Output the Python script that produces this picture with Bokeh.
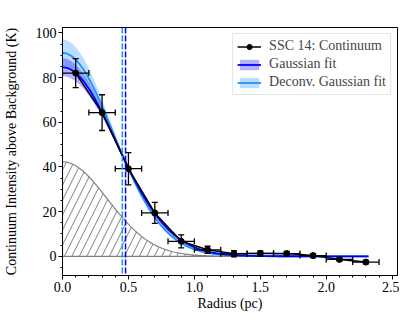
import numpy as np
from bokeh.plotting import figure
from bokeh.models import (ColumnDataSource, Span, Legend, LegendItem, Range1d,
                          PrintfTickFormatter)
from bokeh.embed import file_html
from bokeh.resources import INLINE

# ---- data ----
radius = [0.1, 0.3, 0.5, 0.7, 0.9, 1.1, 1.3, 1.5, 1.7, 1.9, 2.1, 2.3]
radius_err = [0.1, 0.1, 0.1, 0.1, 0.1, 0.1, 0.1, 0.1, 0.1, 0.1, 0.1, 0.1]
intensity = [82.0, 64.3, 39.2, 19.4, 6.7, 2.9, 1.1, 1.3, 1.2, 0.3, -1.4, -2.6]
intensity_err = [6.5, 8.0, 7.2, 4.7, 2.9, 1.6, 1.4, 1.1, 1.0, 0.9, 0.8, 0.8]

# Gaussian fit parameters (amplitude K, sigma pc) and uncertainties
gauss_amp, gauss_amp_err = 84.6, 4.0
gauss_sigma, gauss_sigma_err = 0.406, 0.0127
deconv_amp, deconv_amp_err = 91.0, 6.0
deconv_sigma, deconv_sigma_err = 0.385, 0.0125
beam_amp, beam_sigma = 42.3, 0.34
fit_rmax = 2.32

FONT = "Liberation Serif"

def gauss(x, a, s):
    return a * np.exp(-x ** 2 / (2 * s ** 2))

xfit = np.linspace(0, fit_rmax, 300)
g_mid = gauss(xfit, gauss_amp, gauss_sigma)
g_a = gauss(xfit, gauss_amp + gauss_amp_err, gauss_sigma - gauss_sigma_err)
g_b = gauss(xfit, gauss_amp - gauss_amp_err, gauss_sigma + gauss_sigma_err)
d_mid = gauss(xfit, deconv_amp, deconv_sigma)
d_a = gauss(xfit, deconv_amp + deconv_amp_err, deconv_sigma - deconv_sigma_err)
d_b = gauss(xfit, deconv_amp - deconv_amp_err, deconv_sigma + deconv_sigma_err)
beam = gauss(xfit, beam_amp, beam_sigma)
hwhm_factor = np.sqrt(2 * np.log(2))

fit_src = ColumnDataSource(dict(
    x=xfit, g=g_mid, glo=np.minimum(g_a, g_b), ghi=np.maximum(g_a, g_b),
    d=d_mid, dlo=np.minimum(d_a, d_b), dhi=np.maximum(d_a, d_b), beam=beam,
))

r = np.array(radius); re = np.array(radius_err)
y = np.array(intensity); ye = np.array(intensity_err)
data_src = ColumnDataSource(dict(
    x=r, y=y, xl=r - re, xh=r + re, yl=y - ye, yh=y + ye,
))

p = figure(width=399, height=313, output_backend="svg", toolbar_location=None,
           x_range=Range1d(0, 2.54), y_range=Range1d(-8.6, 102.4),
           min_border_top=27, min_border_right=2, min_border_left=57,
           min_border_bottom=0)
p.grid.visible = False
p.outline_line_color = "black"
p.outline_line_width = 1
p.background_fill_color = "white"

# beam (hatched)
px = np.concatenate([xfit, xfit[::-1]])
py = np.concatenate([beam, np.zeros_like(beam)])
p.patch(px, py, fill_color=None, line_color="gray", line_width=1.2,
        hatch_pattern="/", hatch_color="gray", hatch_scale=15, hatch_weight=1)

# fit bands & lines
d_band = p.varea(x="x", y1="dlo", y2="dhi", source=fit_src,
                 fill_color="dodgerblue", fill_alpha=0.3)
g_band = p.varea(x="x", y1="glo", y2="ghi", source=fit_src,
                 fill_color="blue", fill_alpha=0.3)
d_line = p.line("x", "d", source=fit_src, line_color="dodgerblue", line_width=1.8)
g_line = p.line("x", "g", source=fit_src, line_color="blue", line_width=1.8)

# data with error bars
data_line = p.line("x", "y", source=data_src, line_color="black", line_width=1.5)
p.segment(x0="x", y0="yl", x1="x", y1="yh", source=data_src, line_color="black", line_width=1.3)
p.segment(x0="xl", y0="y", x1="xh", y1="y", source=data_src, line_color="black", line_width=1.3)
p.scatter("x", "yl", source=data_src, marker="dash", size=6, line_color="black", line_width=1.3)
p.scatter("x", "yh", source=data_src, marker="dash", size=6, line_color="black", line_width=1.3)
p.scatter("xl", "y", source=data_src, marker="dash", size=6, angle=np.pi / 2,
          line_color="black", line_width=1.3)
p.scatter("xh", "y", source=data_src, marker="dash", size=6, angle=np.pi / 2,
          line_color="black", line_width=1.3)
data_pts = p.scatter("x", "y", source=data_src, marker="circle", size=6,
                     fill_color="black", line_color="black")

# HWHM dashed lines
p.add_layout(Span(location=deconv_sigma * hwhm_factor, dimension="height",
                  line_color="dodgerblue", line_dash="6 2", line_width=1.5))
p.add_layout(Span(location=gauss_sigma * hwhm_factor, dimension="height",
                  line_color="blue", line_dash="6 2", line_width=1.5))

# axes
p.xaxis.axis_label = "Radius (pc)"
p.yaxis.axis_label = "Continuum Intensity above Background (K)"
p.xaxis.ticker.desired_num_ticks = 6
p.xaxis.ticker.num_minor_ticks = 5
p.yaxis.ticker.num_minor_ticks = 4
p.xaxis.formatter = PrintfTickFormatter(format="%.1f")
for ax in (p.xaxis[0], p.yaxis[0]):
    ax.axis_label_text_font = FONT
    ax.axis_label_text_font_size = "14px"
    ax.axis_label_text_font_style = "normal"
    ax.axis_label_text_color = "black"
    ax.major_label_text_font = FONT
    ax.major_label_text_font_size = "14px"
    ax.major_label_text_color = "black"
    ax.major_tick_in = 0
    ax.major_tick_out = 4
    ax.minor_tick_in = 0
    ax.minor_tick_out = 2
    ax.major_label_standoff = 2
    ax.axis_line_color = "black"
    ax.major_tick_line_color = "black"
    ax.minor_tick_line_color = "black"
p.xaxis[0].axis_label_standoff = 1
p.yaxis[0].axis_label_standoff = 14

legend = Legend(items=[
    LegendItem(label="SSC 14: Continuum", renderers=[data_line, data_pts]),
    LegendItem(label="Gaussian fit", renderers=[g_band, g_line]),
    LegendItem(label="Deconv. Gaussian fit", renderers=[d_band, d_line]),
], location="top_right")
legend.label_text_font = FONT
legend.label_text_font_size = "14px"
legend.glyph_width = 24
legend.glyph_height = 13
legend.label_height = 15
legend.spacing = 2
legend.padding = 4
legend.margin = 6
legend.label_standoff = 8
legend.border_line_color = "#cccccc"
legend.border_line_width = 1
legend.background_fill_alpha = 0.85
p.add_layout(legend)

open("out.html", "w").write(file_html(p, INLINE))
